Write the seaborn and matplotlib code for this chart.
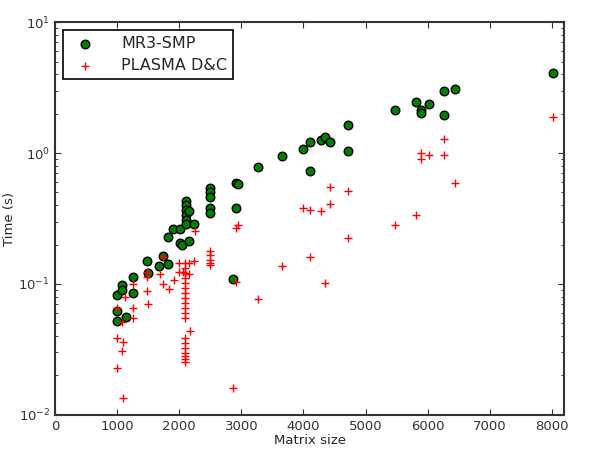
import matplotlib
matplotlib.use("Agg")
import matplotlib.pyplot as plt
import seaborn as sns
import pandas as pd

# MR3-SMP timings (matrix size, seconds)
mr3_n = [1000, 1000, 1000, 1080, 1080, 1145, 1260, 1250, 1480, 1500, 1680, 1740,
         1820, 1820, 1900, 2010, 2015, 2050, 2160, 2110, 2110, 2110, 2110, 2110,
         2160, 2110, 2230, 2500, 2500, 2500, 2500, 2500, 2920, 2950, 2920, 2870,
         3260, 3660, 4000, 4100, 4100, 4290, 4340, 4420, 4710, 4710, 5480, 5820,
         5900, 5900, 6020, 6260, 6260, 6440, 8015]
mr3_t = [0.082, 0.062, 0.052, 0.098, 0.090, 0.056, 0.113, 0.085, 0.150, 0.121,
         0.137, 0.164, 0.142, 0.229, 0.262, 0.262, 0.206, 0.200, 0.213, 0.43,
         0.40, 0.37, 0.336, 0.31, 0.36, 0.287, 0.287, 0.54, 0.50, 0.46, 0.38,
         0.35, 0.59, 0.58, 0.38, 0.109, 0.78, 0.95, 1.07, 1.21, 0.73, 1.26, 1.33,
         1.21, 1.64, 1.04, 2.13, 2.45, 2.13, 2.02, 2.37, 2.97, 1.95, 3.08, 4.08]

# PLASMA D&C timings
dc_n = [1000, 1000, 1000, 1080, 1090, 1080, 1090, 1130, 1260, 1260, 1260,
        1480, 1480, 1480, 1500, 1690, 1740, 1740, 1840, 1920, 2000, 2000, 2060,
        2150, 2150, 2180, 2240, 2260,
        2100, 2100, 2100, 2100, 2100, 2100, 2100, 2100, 2100, 2100, 2100, 2100,
        2100, 2100, 2100, 2100, 2100, 2100, 2100,
        2500, 2500, 2500, 2500, 2500, 2870, 2920, 2920, 2940, 3260, 3660,
        4000, 4100, 4100, 4290, 4340, 4420, 4420, 4710, 4710, 5480, 5820,
        5900, 5900, 6020, 6260, 6260, 6440, 8015]
dc_t = [0.065, 0.039, 0.023, 0.051, 0.036, 0.031, 0.0135, 0.080, 0.100, 0.065, 0.055,
        0.123, 0.113, 0.089, 0.070, 0.120, 0.160, 0.100, 0.092, 0.107, 0.145, 0.123, 0.123,
        0.145, 0.120, 0.044, 0.150, 0.255,
        0.145, 0.132, 0.121, 0.111, 0.102, 0.093, 0.085, 0.078, 0.072, 0.066, 0.060, 0.055,
        0.0387, 0.0355, 0.0325, 0.0297, 0.028, 0.0267, 0.0255,
        0.18, 0.166, 0.152, 0.145, 0.14, 0.016, 0.103, 0.27, 0.28, 0.077, 0.137,
        0.38, 0.37, 0.16, 0.36, 0.102, 0.55, 0.41, 0.51, 0.224, 0.28, 0.336,
        1.0, 0.9, 0.965, 1.28, 0.965, 0.59, 1.88]

mr3 = pd.DataFrame({"n": mr3_n, "t": mr3_t})
dc = pd.DataFrame({"n": dc_n, "t": dc_t})

sns.set_style("ticks")
plt.rcParams["font.family"] = ["DejaVu Sans"]
plt.rcParams["xtick.direction"] = "in"
plt.rcParams["ytick.direction"] = "in"
plt.rcParams["xtick.top"] = True
plt.rcParams["ytick.right"] = True

fig = plt.figure(figsize=(6.12, 4.62), dpi=100)
ax = fig.add_axes([0.09, 0.102, 0.832, 0.85])

sns.scatterplot(data=mr3, x="n", y="t", ax=ax, marker="o", s=38,
                color=(0, 0.5, 0), edgecolor="black", linewidth=1,
                label="MR3-SMP", zorder=2)
sns.scatterplot(data=dc, x="n", y="t", ax=ax, marker="+", s=40,
                color="red", linewidth=1, label="PLASMA D&C", zorder=3)

ax.set_yscale("log")
ax.set_xlim(0, 8200)
ax.set_ylim(0.01, 10)
ax.set_xticks(range(0, 8001, 1000))
ax.tick_params(labelsize=9.5, length=4, width=0.8, colors="#333333")
ax.tick_params(which="minor", length=2, direction="in")
ax.set_xlabel("Matrix size", fontsize=9.5, labelpad=1)
ax.set_ylabel("Time (s)", fontsize=9.5, labelpad=2)
for sp in ax.spines.values():
    sp.set_linewidth(1.5)
    sp.set_color("#333333")

leg = ax.legend(loc="upper left", fontsize=11.5, scatterpoints=1, fancybox=False,
                framealpha=1, edgecolor="black", borderaxespad=0.5,
                handletextpad=1.3, borderpad=0.35, labelspacing=0.45,
                handlelength=2.0)
leg.get_frame().set_linewidth(1.2)

fig.savefig("out.png", dpi=100)
